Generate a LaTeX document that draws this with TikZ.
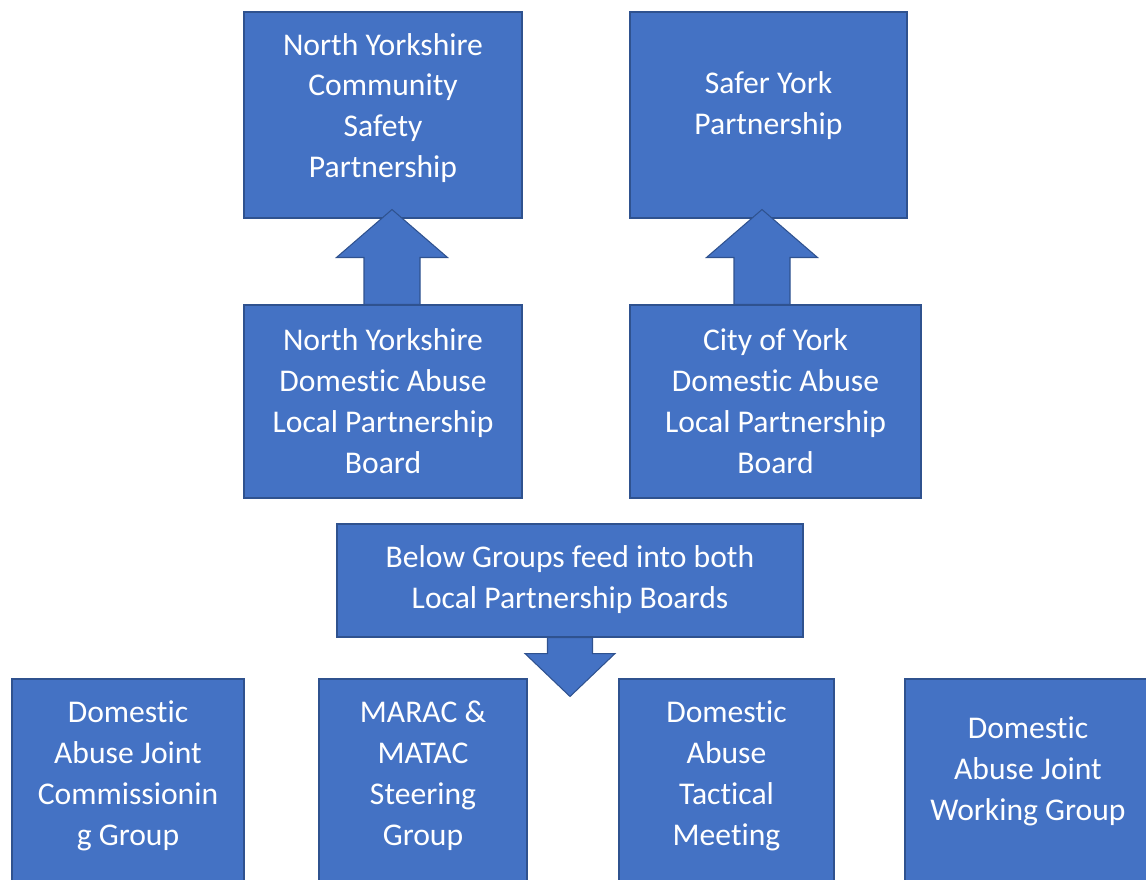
\documentclass[tikz,border=0pt]{standalone}
\usepackage{fontspec}
\setmainfont{Carlito}[Ligatures=CommonOff]
\usetikzlibrary{calc}
\definecolor{boxblue}{HTML}{4472C4}
\definecolor{boxline}{HTML}{2F528F}
\newcommand{\boardfont}{\fontsize{18}{23.3}\selectfont}
\tikzset{
  board/.style 2 args={draw=boxline, fill=boxblue, line width=0.6pt, inner sep=0pt,
    minimum width=#1*0.02cm, minimum height=#2*0.02cm},
  boardtext/.style={text=white, align=center, inner sep=0pt, font=\boardfont},
  blockarrow/.style={draw=boxline, fill=boxblue, line width=0.6pt, line join=miter}
}
\begin{document}
\begin{tikzpicture}[x=0.02cm, y=-0.02cm]
\useasboundingbox (0,0) rectangle (1146,879);
\clip (0,0) rectangle (1146,879);
% partnerships
\node[board={278}{206}] (nycsp) at (383,115) {};
\node[board={277}{206}] (safer) at (768.5,115) {};
% local partnership boards
\node[board={278}{193}] (nylpb) at (383,401.5) {};
\node[board={291}{193}] (coylpb) at (775.5,401.5) {};
\node[board={466}{113}] (below) at (570,580.5) {};
% groups
\node[board={232}{211}] (dajcg) at (128,784.5) {};
\node[board={208}{211}] (marac) at (423,784.5) {};
\node[board={215}{211}] (tact) at (726.5,784.5) {};
\node[board={246}{211}] (dajwg) at (1028,784.5) {};

\node[boardtext] (nycsp-t) at ($(nycsp)+(0,-7)$) {North Yorkshire\\Community\\Safety\\Partnership};
\node[boardtext] (safer-t) at ($(safer)+(0,-9)$) {Safer York\\Partnership};
\node[boardtext] (nylpb-t) at ($(nylpb)+(0,0)$) {North Yorkshire\\Domestic Abuse\\Local Partnership\\Board};
\node[boardtext] (coylpb-t) at ($(coylpb)+(0,0)$) {City of York\\Domestic Abuse\\Local Partnership\\Board};
\node[boardtext] (below-t) at ($(below)+(0,-0.5)$) {Below Groups feed into both\\Local Partnership Boards};
\node[boardtext] (dajcg-t) at ($(dajcg)+(0,-8.5)$) {Domestic\\Abuse Joint\\Commissionin\\g Group};
\node[boardtext] (marac-t) at ($(marac)+(0,-8.5)$) {MARAC \&\\MATAC\\Steering\\Group};
\node[boardtext] (tact-t) at ($(tact)+(0,-8.5)$) {Domestic\\Abuse\\Tactical\\Meeting};
\node[boardtext] (dajwg-t) at ($(dajwg)+(0,-13)$) {Domestic\\Abuse Joint\\Working Group};

% block arrows up
\foreach \src/\dst/\dx in {nylpb/nycsp/9, coylpb/safer/-13.5}{
  \path ([xshift=\dx*0.02cm]\src.north) coordinate (b) (b |- \dst.south) coordinate (t);
  \draw[blockarrow] ($(b)+(-28,0)$) -- ($(b)+(-28,-47)$) -- ($(b)+(-55.5,-47)$)
    -- ($(t)+(0,-9)$) -- ($(b)+(55.5,-47)$) -- ($(b)+(28,-47)$) -- ($(b)+(28,0)$) -- cycle;
}
% block arrow down
\path (below.south) coordinate (b) (b |- marac.north) coordinate (t);
\draw[blockarrow] ($(b)+(-22.5,0)$) -- ($(b)+(-22.5,16)$) -- ($(b)+(-45,16)$)
  -- ($(t)+(0,18)$) -- ($(b)+(45,16)$) -- ($(b)+(22.5,16)$) -- ($(b)+(22.5,0)$) -- cycle;
\end{tikzpicture}
\end{document}
